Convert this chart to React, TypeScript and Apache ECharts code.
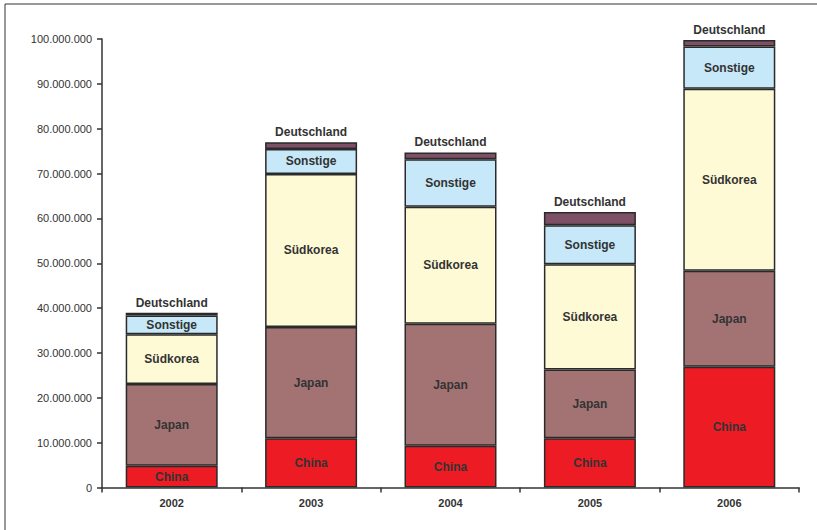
import React, { useEffect, useRef } from "react";
import * as echarts from "echarts";

const years = ["2002", "2003", "2004", "2005", "2006"];
const china = [4860000, 11000000, 9300000, 11000000, 26900000];
const japan = [18200000, 24800000, 27200000, 15300000, 21400000];
const suedkorea = [11100000, 34100000, 26100000, 23500000, 40600000];
const sonstige = [4200000, 5600000, 10600000, 8700000, 9400000];
const deutschland = [600000, 1500000, 1500000, 2900000, 1500000];

const FONT = "'Liberation Sans', Arial, sans-serif";

function fmt(v: number): string {
  return String(Math.round(v)).replace(/\B(?=(\d{3})+(?!\d))/g, ".");
}

export default function App() {
  const ref = useRef<HTMLDivElement>(null);
  useEffect(() => {
    if (!ref.current) return;
    const chart = echarts.init(ref.current, null, { renderer: "svg" });
    const labelInside = (name: string) => ({
      show: true,
      position: "inside" as const,
      formatter: name,
      color: "#333",
      fontFamily: FONT,
      fontSize: 12,
      fontWeight: "bold" as const,
    });
    const border = { borderColor: "#2a2a2a", borderWidth: 1.5 };
    const mk = (name: string, data: number[], color: string, label: any) => ({
      name,
      type: "bar",
      stack: "total",
      data,
      barWidth: 92,
      itemStyle: { color, ...border },
      label,
    });
    chart.setOption({
      animation: false,
      backgroundColor: "#fff",
      grid: { left: 102, top: 39, right: 18, bottom: 42.5, containLabel: false },
      xAxis: {
        type: "category",
        data: years,
        axisLine: { show: true, lineStyle: { color: "#333", width: 1.5 } },
        axisTick: { show: true, length: 5, alignWithLabel: false, lineStyle: { color: "#333", width: 1.5 } },
        axisLabel: { color: "#333", fontFamily: FONT, fontSize: 11, fontWeight: "bold", margin: 10 },
      },
      yAxis: {
        type: "value",
        min: 0,
        max: 100000000,
        interval: 10000000,
        splitLine: { show: false },
        axisLine: { show: true, lineStyle: { color: "#333", width: 1.5 } },
        axisTick: { show: true, length: 5, lineStyle: { color: "#333", width: 1.5 } },
        axisLabel: { color: "#333", fontFamily: FONT, fontSize: 11, margin: 10, formatter: (v: number) => fmt(v) },
      },
      graphic: [
        { type: "line", shape: { x1: 5, y1: 4, x2: 817, y2: 4 }, style: { stroke: "#333", lineWidth: 1 } },
        { type: "line", shape: { x1: 5, y1: 4, x2: 5, y2: 530 }, style: { stroke: "#333", lineWidth: 1 } },
      ],
      series: [
        mk("China", china, "#ED1C24", labelInside("China")),
        mk("Japan", japan, "#A37373", labelInside("Japan")),
        mk("Südkorea", suedkorea, "#FFFAD6", labelInside("Südkorea")),
        mk("Sonstige", sonstige, "#C6E8F8", labelInside("Sonstige")),
        mk("Deutschland", deutschland, "#7E5068", {
          show: true,
          position: "top",
          distance: 4,
          formatter: "Deutschland",
          color: "#333",
          fontFamily: FONT,
          fontSize: 12,
          fontWeight: "bold",
        }),
      ],
    });
    return () => chart.dispose();
  }, []);
  return (
    <div
      ref={ref}
      style={{ position: "fixed", left: 0, top: 0, width: 817, height: 530 }}
    />
  );
}
